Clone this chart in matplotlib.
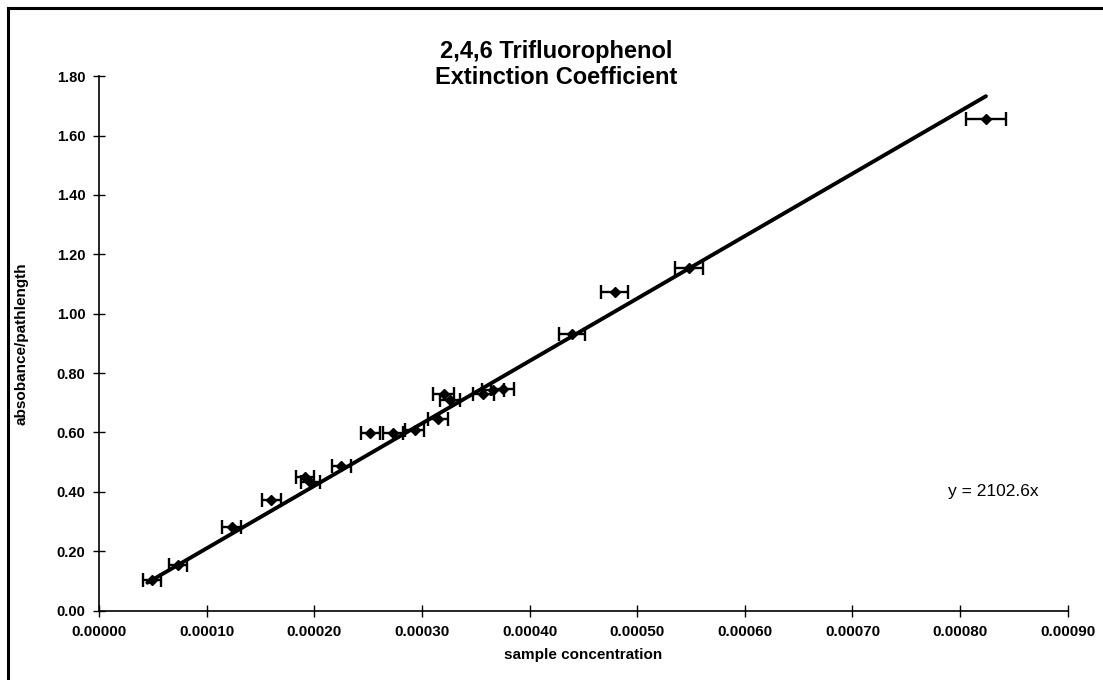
import matplotlib.pyplot as plt
from matplotlib.lines import Line2D

# concentration (M), absorbance / pathlength, x error
conc = [0.0000487, 0.0000734, 0.000123, 0.000160, 0.000191, 0.000196,
        0.000225, 0.000252, 0.000273, 0.000293, 0.000315, 0.000320,
        0.000326, 0.000357, 0.000366, 0.000375, 0.000439, 0.000479,
        0.000548, 0.000824]
absb = [0.102, 0.154, 0.283, 0.372, 0.451, 0.434,
        0.487, 0.597, 0.599, 0.610, 0.647, 0.731,
        0.709, 0.731, 0.743, 0.748, 0.933, 1.073,
        1.153, 1.657]
xerr = [0.0000083, 0.0000085, 0.0000085, 0.0000085, 0.0000085, 0.0000088,
        0.0000090, 0.0000092, 0.0000092, 0.0000092, 0.0000093, 0.0000096,
        0.0000096, 0.0000100, 0.0000100, 0.0000105, 0.0000120, 0.0000128,
        0.0000130, 0.0000183]
slope = 2102.6

xticks = [i * 0.0001 for i in range(10)]
yticks = [i * 0.2 for i in range(10)]

plt.rcParams['font.family'] = ['Liberation Sans', 'DejaVu Sans']

fig = plt.figure(figsize=(11.03, 6.8), dpi=100)
ax = fig.add_axes([0.090, 0.102, 0.878, 0.786])

ax.errorbar(conc, absb, xerr=xerr, fmt='D', color='black', markersize=5.5,
            elinewidth=1.7, capsize=5, capthick=1.7)
x0, x1 = min(conc) - 0.000004, max(conc)
ax.plot([x0, x1], [slope * x0, slope * x1], color='black', lw=2.8,
        solid_capstyle='round')

ax.set_xlim(0, 0.0009)
ax.set_ylim(0, 1.8)
ax.set_xticks(xticks)
ax.set_yticks(yticks)
ax.set_xticklabels(['%.5f' % v for v in xticks], fontweight='bold', fontsize=11)
ax.set_yticklabels(['%.2f' % v for v in yticks], fontweight='bold', fontsize=10.5)
ax.tick_params(direction='inout', length=8, width=1, pad=6)
for s in ['top', 'right']:
    ax.spines[s].set_visible(False)
for s in ['left', 'bottom']:
    ax.spines[s].set_linewidth(1.2)

ax.set_xlabel('sample concentration', fontweight='bold', fontsize=11, labelpad=7)
ax.set_ylabel('absobance/pathlength', fontweight='bold', fontsize=11, labelpad=20)
fig.text(0.504, 0.905, '2,4,6 Trifluorophenol\nExtinction Coefficient',
         ha='center', va='center', fontsize=17, fontweight='bold', linespacing=1.2)
fig.text(0.901, 0.277, 'y = 2102.6x', ha='center', va='center', fontsize=12.5)

# scanned frame around the chart
fig.add_artist(Line2D([0.007, 1.0], [0.988, 0.988], color='black', lw=2.2,
                      transform=fig.transFigure))
fig.add_artist(Line2D([0.007, 0.007], [0.0, 0.988], color='black', lw=2.2,
                      transform=fig.transFigure))

fig.savefig('out.png', dpi=100)
